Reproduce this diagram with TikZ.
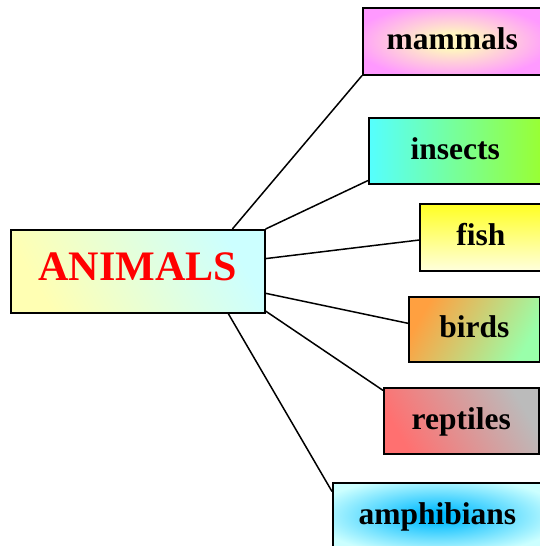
\documentclass[tikz,border=0pt]{standalone}
\usepackage{fontspec}
\setmainfont{Liberation Serif}
\usetikzlibrary{calc}
\definecolor{anA}{HTML}{FFFFB3}
\definecolor{anB}{HTML}{CCFFFF}
\definecolor{maO}{HTML}{FF99FF}
\definecolor{maI}{HTML}{FFF5C0}
\definecolor{inL}{HTML}{55FFFF}
\definecolor{inR}{HTML}{99FF33}
\definecolor{fiT}{HTML}{FFFF22}
\definecolor{fiB}{HTML}{FFFFDD}
\definecolor{biA}{HTML}{FFA040}
\definecolor{biB}{HTML}{99FFAA}
\definecolor{reA}{HTML}{FF7070}
\definecolor{reB}{HTML}{BBBBBB}
\definecolor{amI}{HTML}{00BBFF}
\definecolor{amO}{HTML}{CCFFFF}
\pgfdeclareradialshading{mamrad}{\pgfpointorigin}{color(0bp)=(maI); color(6bp)=(maI); color(28bp)=(maO); color(50bp)=(maO)}
\pgfdeclareradialshading{amrad}{\pgfpointorigin}{color(0bp)=(amI); color(3bp)=(amI); color(30bp)=(amO); color(50bp)=(amO)}
\tikzset{
  box/.style={draw=black, line width=1.6pt, anchor=north west, inner sep=0pt,
    font=\fontsize{31.5}{36}\selectfont\bfseries, text height=17pt, text depth=0pt},
  link/.style={line width=1.5pt, black}
}
\begin{document}
\begin{tikzpicture}[x=1pt,y=-1pt]
\useasboundingbox (0,0) rectangle (540,546);
\node[box, minimum width=254pt, minimum height=83pt, top color=anB, bottom color=anA, shading angle=-60,
  font=\fontsize{42}{48}\selectfont\bfseries, text=red, text height=19pt] (animals) at (10,229) {ANIMALS};
\node[box, minimum width=179pt, minimum height=67pt, shade, shading=mamrad] (mammals) at (362,7) {mammals};
\node[box, minimum width=173pt, minimum height=66pt, left color=inL, right color=inR] (insects) at (368,117) {insects};
\node[box, minimum width=122pt, minimum height=67pt, top color=fiT, bottom color=fiB] (fish) at (419,203) {fish};
\node[box, minimum width=131pt, minimum height=65pt, top color=biA, bottom color=biB, shading angle=60] (birds) at (408,296) {birds};
\node[box, minimum width=155pt, minimum height=66pt, top color=reB, bottom color=reA, shading angle=-60] (reptiles) at (383,387) {reptiles};
\node[box, minimum width=209pt, minimum height=66pt, shade, shading=amrad] (amphibians) at (332,482) {amphibians};
\draw[link] ($(animals.north west)!0.87!(animals.north east)$) -- (mammals.south west);
\draw[link] (animals.north east) -- ($(insects.south west)!0.06!(insects.north west)$);
\draw[link] ($(animals.north east)!0.35!(animals.south east)$) -- ($(fish.north west)!0.54!(fish.south west)$);
\draw[link] ($(animals.north east)!0.76!(animals.south east)$) -- ($(birds.north west)!0.41!(birds.south west)$);
\draw[link] ($(animals.north east)!0.97!(animals.south east)$) -- ($(reptiles.north west)!0.05!(reptiles.south west)$);
\draw[link] ($(animals.south west)!0.854!(animals.south east)$) -- ($(amphibians.north west)!0.14!(amphibians.south west)$);
\end{tikzpicture}
\end{document}
